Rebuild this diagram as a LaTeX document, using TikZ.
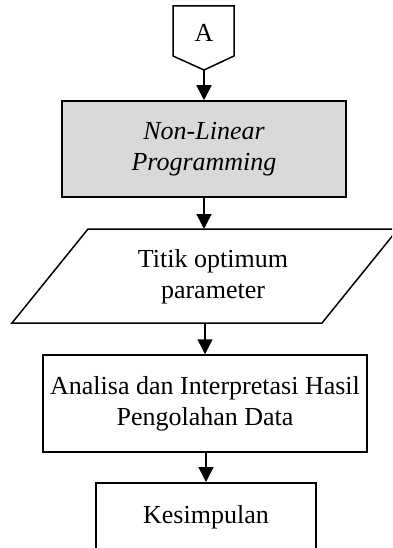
\documentclass[tikz,border=0pt]{standalone}
\usepackage{fontspec}
\setmainfont{Liberation Serif}
\usetikzlibrary{arrows.meta}
\begin{document}
\begin{tikzpicture}[x=1pt,y=-1pt,
  outline/.style={draw=black, line width=1.5pt},
  stepbox/.style={outline, rectangle, inner sep=0pt, align=center,
    font=\fontsize{26}{31}\selectfont},
  lbl/.style={inner sep=0pt, align=center, font=\fontsize{26}{31}\selectfont},
  flow/.style={line width=1.5pt, -{Triangle[width=15pt,length=15pt]}}]
\useasboundingbox (0,0) rectangle (392,548);
\clip (0,0) rectangle (392,548);

% off-page connector
\draw[outline] (173,6) -- (234,6) -- (234,56) -- (204,70) -- (173,56) -- cycle;
\coordinate (atip) at (204,70);
\node[lbl] (alabel) at (204,33) {A};

% non-linear programming step
\node[stepbox, fill=black!15, minimum width=284pt, minimum height=96pt]
  (nlp) at (204,149) {\itshape Non-Linear\\ \itshape Programming};

% output: optimum parameters
\coordinate (pbl) at (12,323);
\coordinate (ptl) at (88,229);
\coordinate (ptr) at (398,229);
\coordinate (pbr) at (322,323);
\draw[outline] (pbl) -- (ptl) -- (ptr) -- (pbr) -- cycle;
\coordinate (ptop) at (204,229);
\coordinate (pbot) at (205,323);
\node[lbl] (ptext) at (213,277) {Titik optimum\\parameter};

% analysis step
\node[stepbox, minimum width=324pt, minimum height=97pt]
  (ana) at (205,403.5) {Analisa dan Interpretasi Hasil\\Pengolahan Data};

% conclusion
\node[outline, rectangle, minimum width=220pt, minimum height=140pt, anchor=north]
  (kes) at (206,482) {};
\node[lbl] (kestext) at (206,517) {Kesimpulan};

% connectors
\draw[flow] (atip) -- (atip |- nlp.north);
\draw[flow] (nlp.south) -- (ptop);
\draw[flow] (pbot) -- (pbot |- ana.north);
\draw[flow] (ana.south -| kes.north) -- (kes.north);
\end{tikzpicture}
\end{document}
